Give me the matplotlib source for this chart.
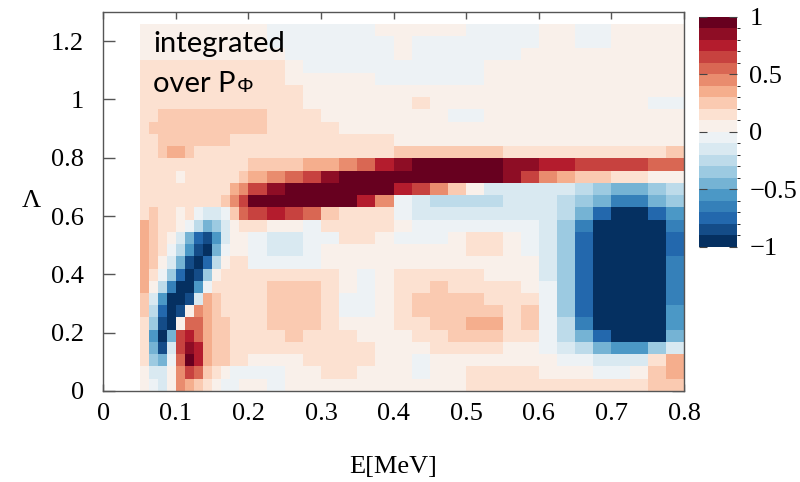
import numpy as np
import matplotlib
matplotlib.use("Agg")
import matplotlib.pyplot as plt
from matplotlib.colors import BoundaryNorm

plt.rcParams['font.family'] = ['Liberation Serif', 'DejaVu Serif']
plt.rcParams['axes.unicode_minus'] = True

# E bin edges [MeV]: 0.0125 MeV bins below 0.2 MeV, 0.025 MeV bins above
e_edges = [0.05, 0.0625, 0.075, 0.0875, 0.1, 0.1125, 0.125, 0.1375, 0.15,
           0.1625, 0.175, 0.1875, 0.2, 0.225, 0.25, 0.275, 0.3, 0.325, 0.35,
           0.375, 0.4, 0.425, 0.45, 0.475, 0.5, 0.525, 0.55, 0.575, 0.6,
           0.625, 0.65, 0.675, 0.7, 0.725, 0.75, 0.775, 0.8]
# Lambda bin edges
lam_edges = np.linspace(0.0, 1.26, 31)

# difference signal in tenths, rows from Lambda = 1.26 (top) down to 0
dz_tenths = [
    [0,0,0,0,0,0,0,0,0,0,0,0, 0,-1,-1,-1,-1,-1,-1,0,0,0,0,0,-1,-1,-1,-1,0,0,-1,-1,0,0,0,0],
    [0,0,0,0,0,0,0,0,0,0,0,0, 0,-1,-1,-1,-1,-1,-1,-1,0,-1,-1,-1,-1,-1,-1,-1,0,0,-1,-1,0,0,0,0],
    [0,0,0,0,0,0,0,0,0,0,0,0, 0,0,-1,-1,-1,-1,-1,-1,0,-1,-1,-1,-1,-1,-1,0,0,0,0,0,0,0,0,0],
    [1,1,1,1,1,1,1,1,1,1,1,1, 1,1,0,-1,-1,-1,-1,-1,-1,-1,-1,-1,-1,0,0,0,0,0,0,0,0,0,0,0],
    [1,1,1,1,1,1,1,1,1,1,1,1, 1,1,0,0,0,0,0,-1,-1,-1,-1,-1,-1,0,0,0,0,0,0,0,0,0,0,0],
    [1,1,1,1,1,1,1,1,1,1,1,1, 1,1,1,0,0,0,0,0,0,0,0,0,0,0,0,0,0,0,0,0,0,0,0,0],
    [1,1,1,1,1,1,1,1,1,1,1,1, 1,1,1,0,0,0,0,0,0,1,0,0,0,0,0,0,0,0,0,0,0,0,-1,-1],
    [1,1,2,2,2,2,2,2,2,2,2,2, 2,1,1,1,0,0,0,0,0,0,0,-1,-1,0,0,0,0,0,0,0,0,0,0,0],
    [1,2,2,2,2,2,2,2,2,2,2,2, 2,1,1,1,1,0,0,0,0,0,0,0,0,0,0,0,0,0,0,0,0,0,0,0],
    [1,1,2,2,2,2,2,2,2,2,1,1, 1,1,1,1,1,1,1,1,0,0,0,0,0,0,0,0,0,0,0,0,0,0,0,0],
    [1,1,2,3,3,2,1,1,1,1,1,1, 1,1,1,1,1,1,1,1,2,2,2,2,2,2,1,1,1,1,1,1,1,1,1,2],
    [1,1,1,1,1,1,1,1,1,1,1,1, 2,2,2,3,3,4,5,7,8,9,9,9,9,9,8,8,7,7,6,6,6,6,5,5],
    [1,1,1,1,0,1,1,1,1,1,1,2, 3,4,5,6,8,9,9,9,9,9,9,9,9,9,8,6,4,3,2,2,1,1,0,0],
    [1,1,1,1,1,1,1,1,1,1,3,4, 6,8,9,9,9,9,9,9,7,6,4,2,0,-2,-2,-2,-2,-2,-3,-4,-5,-5,-4,-3],
    [1,1,1,1,1,1,1,1,1,2,4,6, 9,9,9,9,9,9,7,4,-1,-2,-3,-3,-3,-3,-2,-2,-2,-3,-4,-5,-7,-7,-5,-4],
    [1,2,1,1,0,1,-1,-2,-2,-1,2,5, 6,7,6,5,2,1,1,1,-1,-2,-2,-2,-2,-2,-2,-2,-2,-3,-5,-8,-10,-10,-8,-6],
    [3,2,1,1,0,-1,-3,-5,-4,-2,0,1, 1,0,0,-1,1,1,1,1,0,-1,-1,-1,-1,-1,-1,-1,-2,-4,-7,-10,-10,-10,-10,-7],
    [3,2,1,0,-2,-5,-8,-9,-6,-2,0,0, -1,-2,-2,-1,-1,1,1,0,-1,-1,-1,0,1,1,0,-1,-2,-4,-8,-10,-10,-10,-10,-8],
    [3,2,1,-1,-3,-6,-9,-10,-5,-1,0,0, -1,-2,-2,-1,0,0,0,0,0,0,0,0,1,1,0,-1,-2,-4,-8,-10,-10,-10,-10,-8],
    [3,2,0,-2,-5,-9,-10,-8,-3,0,1,1, -1,-1,-1,-1,0,0,0,0,0,0,0,0,0,0,0,0,-2,-4,-8,-10,-10,-10,-10,-7],
    [3,1,-1,-4,-8,-10,-9,-4,0,1,1,1, 1,1,1,1,1,0,-1,0,1,1,1,1,1,0,0,0,-2,-4,-8,-10,-10,-10,-10,-7],
    [3,0,-3,-7,-10,-10,-6,-1,1,1,1,1, 1,2,2,2,1,0,-1,0,1,1,2,1,1,1,1,0,-1,-4,-8,-10,-10,-10,-10,-7],
    [2,-2,-6,-10,-10,-9,-2,3,2,1,1,1, 1,2,2,2,1,-1,-1,0,1,2,2,2,2,1,1,1,-1,-4,-8,-10,-10,-10,-10,-7],
    [2,-3,-8,-10,-9,0,4,3,2,1,1,1, 1,2,2,2,1,-1,-1,0,1,2,2,2,2,2,1,2,-1,-4,-8,-10,-10,-10,-10,-6],
    [1,-4,-9,-10,0,5,5,3,2,2,1,1, 1,2,2,2,1,0,0,0,1,1,2,2,3,3,1,2,-1,-3,-7,-10,-10,-10,-10,-6],
    [1,-6,-10,-5,6,7,5,3,2,2,1,1, 1,1,2,1,1,1,0,0,0,1,1,2,2,2,1,1,-1,-3,-5,-8,-10,-10,-10,-5],
    [1,-5,-9,-2,6,8,7,3,2,2,1,1, 1,1,1,1,1,1,1,0,0,0,1,1,1,1,0,0,-1,-2,-3,-5,-6,-6,-4,-2],
    [1,-4,-5,-1,5,9,7,3,2,2,1,1, 0,0,0,1,1,1,1,0,0,-1,0,0,0,0,0,0,0,-1,-1,-2,-2,-2,1,3],
    [0,-2,-2,0,4,6,5,2,1,0,-1,-1, -1,-1,0,0,1,1,0,0,0,-1,0,0,1,1,1,1,0,0,0,-1,-1,0,2,3],
    [0,-1,-2,0,4,3,2,1,0,-1,-1,0, 0,-1,0,0,0,0,0,0,0,0,0,0,1,1,1,1,1,1,1,1,1,1,2,2],
]

x_ticks = [0, 0.1, 0.2, 0.3, 0.4, 0.5, 0.6, 0.7, 0.8]
x_labels = ['0', '0.1', '0.2', '0.3', '0.4', '0.5', '0.6', '0.7', '0.8']
y_ticks = [0, 0.2, 0.4, 0.6, 0.8, 1.0, 1.2]
y_labels = ['0', '0.2', '0.4', '0.6', '0.8', '1', '1.2']
cb_ticks = [-1, -0.5, 0, 0.5, 1]
cb_labels = ['\u22121', '\u22120.5', '0', '0.5', '1']

# each cell sits in the middle of its 0.1-wide colour band
dz = (np.flipud(np.array(dz_tenths, dtype=float)) + 0.5) / 10.0

levels = np.linspace(-1, 1, 21)
cmap = plt.get_cmap('RdBu_r', 20)
norm = BoundaryNorm(levels, cmap.N)

fig = plt.figure(figsize=(8.0, 4.82), dpi=100)
ax = fig.add_axes([0.129, 0.189, 0.726, 0.786])
mesh = ax.pcolormesh(e_edges, lam_edges, dz, cmap=cmap, norm=norm,
                     shading='flat', edgecolors='none', antialiased=False)

ax.set_xlim(0, 0.8)
ax.set_ylim(0, 1.3)
ax.set_axisbelow(True)
ax.set_xticks(x_ticks)
ax.set_xticklabels(x_labels)
ax.set_yticks(y_ticks)
ax.set_yticklabels(y_labels)
ax.tick_params(axis='both', direction='in', labelsize=19, colors='#555555',
               labelcolor='black', width=1)
ax.tick_params(axis='x', top=True, length=5, pad=9)
ax.tick_params(axis='y', right=True, length=8.5, pad=14)
for s in ax.spines.values():
    s.set_color('#555555')
    s.set_linewidth(1)

ax.set_xlabel('E[MeV]', fontsize=19, labelpad=22)
ax.set_ylabel('\u039b', fontsize=19, rotation=0, labelpad=14, va='center')

sans = ['Lato', 'Liberation Sans', 'DejaVu Sans']
ax.text(0.069, 1.162, 'integrated', family=sans, fontsize=21, va='baseline')
t2 = ax.text(0.069, 1.025, 'over P', family=sans, fontsize=21, va='baseline')
ax.annotate('\u03a6', xy=(1, 0), xycoords=t2, xytext=(1, 1),
            textcoords='offset points', family=['Liberation Sans', 'DejaVu Sans'],
            fontsize=15, va='bottom', ha='left')

cax = fig.add_axes([0.874, 0.488, 0.047, 0.477])
cb = fig.colorbar(mesh, cax=cax, ticks=cb_ticks)
cb.outline.set_visible(False)
cb.ax.set_yticklabels(cb_labels)
cb.ax.tick_params(direction='in', left=True, right=True, length=6,
                  colors='#444444', labelcolor='black', labelsize=19, pad=9)

fig.savefig('out.png', dpi=100)
